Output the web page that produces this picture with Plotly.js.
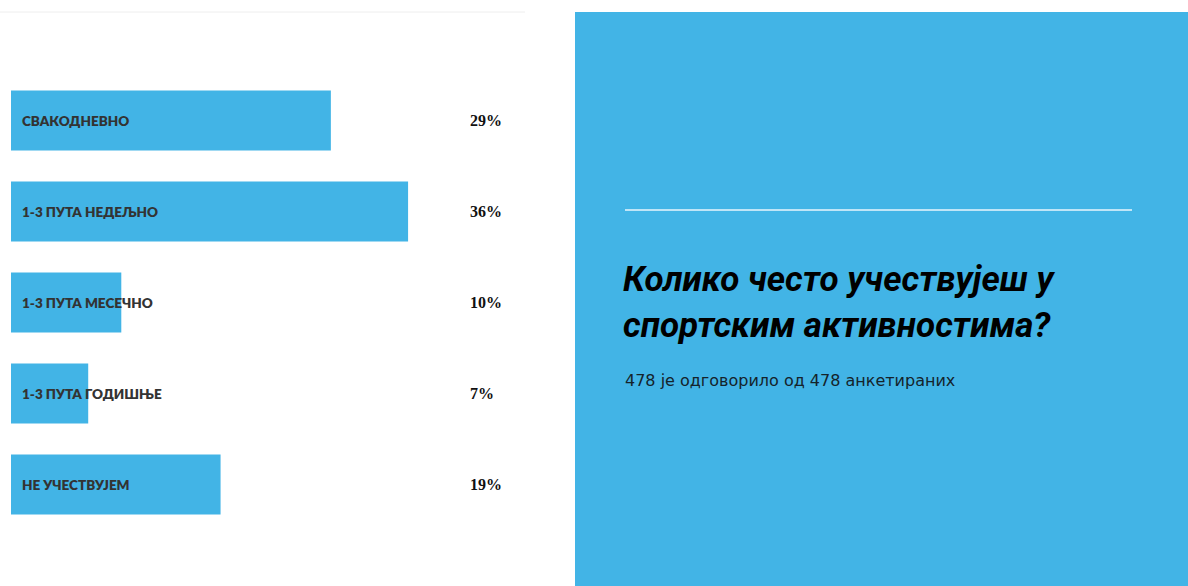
<!DOCTYPE html>
<html><head><meta charset="utf-8">
<script src="https://cdn.plot.ly/plotly-3.0.1.min.js"></script>
<style>html,body{margin:0;padding:0;background:#fff;overflow:hidden}#chart{width:1188px;height:586px}</style>
</head><body><div id="chart"></div>
<script>
const categories = ["СВАКОДНЕВНО", "1-3 ПУТА НЕДЕЉНО", "1-3 ПУТА МЕСЕЧНО", "1-3 ПУТА ГОДИШЊЕ", "НЕ УЧЕСТВУЈЕМ"];
const percentages = [29, 36, 10, 7, 19];
const titleText = "Колико често учествујеш у<br>спортским активностима?";
const subtitleText = "478 је одговорило од 478 анкетираних";

const W = 1188, H = 586;
const px = v => v / W;
const py = v => (H - v) / H;
const blue = "#42b4e6";

const trace = {
  type: "bar", orientation: "h",
  y: categories, x: percentages,
  marker: {color: blue, line: {width: 0}},
  hoverinfo: "none", showlegend: false
};

const annotations = [];
categories.forEach((c, i) => {
  annotations.push({xref: "paper", yref: "y", x: px(20), y: c, xanchor: "left", yanchor: "middle",
    text: c, showarrow: false, font: {family: "Lato", size: 13.5, weight: 800, color: "#333333"}});
  annotations.push({xref: "paper", yref: "y", x: px(467.5), y: c, xanchor: "left", yanchor: "middle",
    text: percentages[i] + "%", showarrow: false, font: {family: "Liberation Serif", size: 16, weight: 700, color: "#111111"}});
});
annotations.push({xref: "paper", yref: "paper", x: px(623), y: py(380), xanchor: "left", yanchor: "middle",
  text: subtitleText, showarrow: false, font: {family: "DejaVu Sans", size: 16, weight: 400, color: "#15232b"}});

const layout = {
  width: W, height: H,
  margin: {l: 0, r: 0, t: 0, b: 0},
  paper_bgcolor: "#ffffff", plot_bgcolor: "rgba(0,0,0,0)",
  bargap: 0.34,
  title: {text: titleText, xref: "paper", yref: "paper", x: px(623), y: py(291), xanchor: "left", yanchor: "middle",
    font: {family: "Roboto", size: 35, style: "italic", weight: 700, color: "#000000"}},
  xaxis: {domain: [px(11), px(525)], range: [0, 514 / 11.03], visible: false, fixedrange: true},
  yaxis: {domain: [py(530), py(75)], autorange: "reversed", visible: false, fixedrange: true},
  shapes: [
    {type: "line", xref: "paper", yref: "paper", x0: 0, x1: px(525), y0: py(12), y1: py(12), line: {color: "#eeeeee", width: 1}},
    {type: "rect", xref: "paper", yref: "paper", x0: px(575), x1: 1, y0: 0, y1: py(12), fillcolor: blue, line: {width: 0}, layer: "below"},
    {type: "line", xref: "paper", yref: "paper", x0: px(625), x1: px(1132), y0: py(210), y1: py(210), line: {color: "#eaf6fc", width: 1.5}}
  ],
  annotations: annotations
};

Plotly.newPlot("chart", [trace], layout, {displayModeBar: false, staticPlot: true});
</script></body></html>
